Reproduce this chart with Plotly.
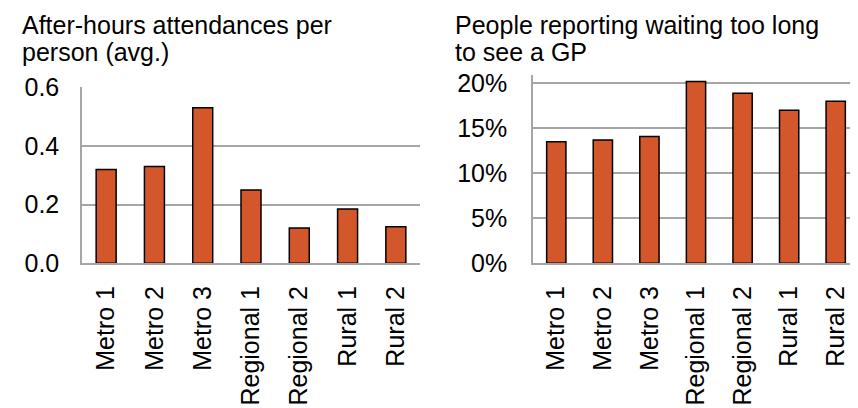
import plotly.graph_objects as go
from plotly.subplots import make_subplots

categories = ["Metro 1", "Metro 2", "Metro 3", "Regional 1", "Regional 2", "Rural 1", "Rural 2"]
after_hours = [0.32, 0.33, 0.53, 0.25, 0.12, 0.185, 0.125]
waiting_too_long = [0.135, 0.137, 0.141, 0.202, 0.189, 0.170, 0.180]
left_ticks = [0.0, 0.2, 0.4, 0.6]
right_ticks = [0.0, 0.05, 0.10, 0.15, 0.20]

W, H = 858, 408
OFF = 8  # page body margin offset
FONT = "Liberation Sans, Arial, sans-serif"
BAR = "#D4572B"
GRID = "#A6A6A6"


def X(p):
    return (p - OFF) / W


def Y(p):
    return (H - (p - OFF)) / H


fig = make_subplots(rows=1, cols=2)
fig.add_trace(go.Bar(x=categories, y=after_hours, marker=dict(color=BAR, line=dict(color="black", width=1.5))), row=1, col=1)
fig.add_trace(go.Bar(x=categories, y=waiting_too_long, marker=dict(color=BAR, line=dict(color="black", width=1.5))), row=1, col=2)

fig.update_layout(
    width=W, height=H,
    margin=dict(l=0, r=0, t=0, b=0, autoexpand=False),
    paper_bgcolor="white", plot_bgcolor="white",
    showlegend=False, bargap=0.586,
    font=dict(family=FONT, color="black", size=24),
    xaxis=dict(domain=[X(82), X(420)], showline=True, linecolor=GRID, linewidth=1.5, automargin=False,
               tickangle=-90, ticks="", ticklabelstandoff=11, tickfont=dict(size=25), showgrid=False),
    xaxis2=dict(domain=[X(533), X(859)], showline=True, linecolor=GRID, linewidth=1.5, automargin=False,
                tickangle=-90, ticks="", ticklabelstandoff=11, tickfont=dict(size=25), showgrid=False),
    yaxis=dict(domain=[Y(263.3), Y(87.3)], range=[0, 0.6], tickvals=left_ticks,
               tickformat=".1f", showline=True, linecolor=GRID, linewidth=1.5, automargin=False,
               gridcolor=GRID, gridwidth=1.5, zeroline=False, ticks="", ticklabelstandoff=16,
               tickfont=dict(size=25)),
    yaxis2=dict(domain=[Y(263.3), Y(75)], range=[0, 0.2092], tickvals=right_ticks,
                tickformat=".0%", showline=True, linecolor=GRID, linewidth=1.5, automargin=False,
                gridcolor=GRID, gridwidth=1.5, zeroline=False, ticks="", ticklabelstandoff=19,
                tickfont=dict(size=25)),
)

titles = [
    ("After-hours attendances per", 20, 25),
    ("person (avg.)", 20, 52),
    ("People reporting waiting too long", 453, 25),
    ("to see a GP", 453, 52),
]
for text, x, y in titles:
    fig.add_annotation(text=text, xref="paper", yref="paper", x=X(x), y=Y(y),
                       xanchor="left", yanchor="middle", showarrow=False,
                       font=dict(family=FONT, size=25, color="black"))

fig.write_html("out.html")
